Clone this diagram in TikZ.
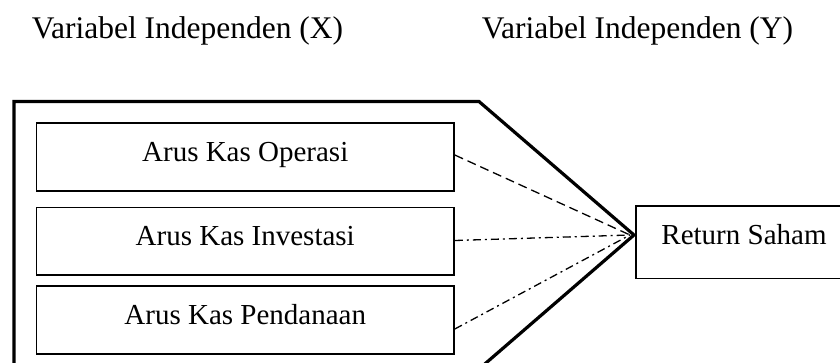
\documentclass[tikz,border=0pt]{standalone}
\usepackage{fontspec}
\setmainfont{Liberation Serif}
\begin{document}
\begin{tikzpicture}[x=1pt,y=-1pt,
  box/.style={draw,line width=1.6pt,rectangle,inner sep=0pt,
    text height=24.5pt,text depth=15.5pt,minimum width=417.5pt,
    font=\fontsize{29}{34}\selectfont},
  titletext/.style={anchor=base,inner sep=0pt,font=\fontsize{31.5}{36}\selectfont},
  frame/.style={line width=3.2pt,line join=miter},
  link/.style={line width=1.3pt},
  dashlink/.style={link,dash pattern=on 9pt off 5pt},
  dotlink/.style={link,dash pattern=on 8pt off 4pt on 2pt off 4pt}]
\useasboundingbox (0,0) rectangle (840,362);
\clip (0,0) rectangle (840,362);
\fill[white] (0,0) rectangle (840,362);
% titles
\node[titletext] (tx) at (187.5,38) {Variabel Independen (X)};
\node[titletext] (ty) at (637.5,38) {Variabel Independen (Y)};
% frame
\coordinate (apex) at (634,235);
\draw[frame] (14,369) -- (14,101.5) -- (479,101.5) -- (apex) -- (479,369) -- cycle;
% boxes
\node[box,minimum height=68pt] (b1) at (245.25,157) {Arus Kas Operasi};
\node[box,minimum height=67.7pt] (b2) at (245.25,241.2) {Arus Kas Investasi};
\node[box,minimum height=68pt] (b3) at (245.25,320) {Arus Kas Pendanaan};
\node[box,minimum width=216pt,minimum height=72.5pt,text height=21.75pt,text depth=18.25pt] (rs) at (744,242.25) {Return Saham};
% connectors
\coordinate (tip) at (630,235);
\draw[dashlink] ([yshift=2pt]b1.east) -- (tip);
\draw[dotlink] ([yshift=0.7pt]b2.east) -- (tip);
\draw[dotlink] ([yshift=-9pt]b3.east) -- (tip);
\end{tikzpicture}
\end{document}
